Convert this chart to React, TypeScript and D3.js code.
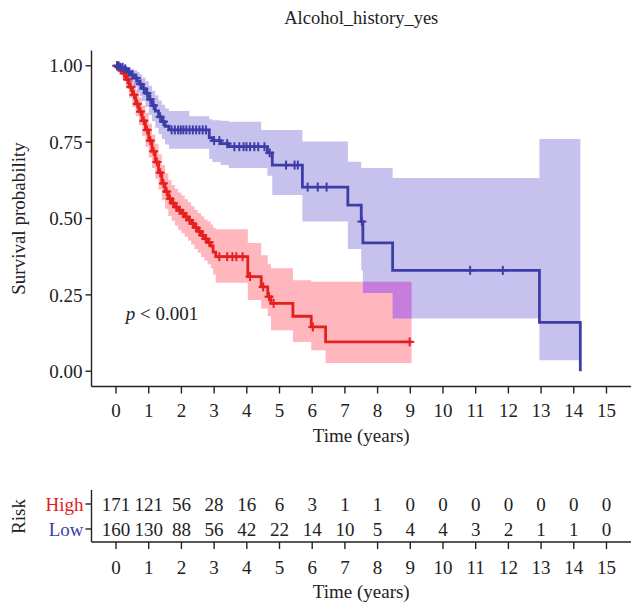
import React from "react";
import * as d3 from "d3";

// Kaplan–Meier estimates, stratified by risk group (time in years)
const highTimes = [0, 0.05, 0.1, 0.2, 0.3, 0.4, 0.5, 0.6, 0.7, 0.8, 0.9, 1.0, 1.1, 1.2, 1.3, 1.4, 1.5, 1.6, 1.7, 1.8, 1.9, 2.0, 2.1, 2.2, 2.3, 2.4, 2.5, 2.6, 2.7, 2.8, 2.9, 2.97, 3.05, 4.03, 4.44, 4.64, 4.74, 5.41, 5.97, 6.41];
const highSurv = [1, 0.995, 0.99, 0.975, 0.955, 0.93, 0.905, 0.875, 0.85, 0.82, 0.79, 0.755, 0.72, 0.685, 0.65, 0.615, 0.588, 0.565, 0.55, 0.537, 0.527, 0.517, 0.505, 0.495, 0.483, 0.47, 0.458, 0.445, 0.433, 0.422, 0.41, 0.39, 0.375, 0.31, 0.276, 0.244, 0.222, 0.18, 0.145, 0.096];
const highEnd = 9.04;
const highCensor = [0.03, 0.08, 0.15, 0.25, 0.35, 0.45, 0.55, 0.65, 0.75, 0.85, 0.95, 1.05, 1.15, 1.25, 1.35, 1.45, 1.55, 1.65, 1.75, 1.85, 1.95, 2.05, 2.15, 2.25, 2.35, 2.45, 2.55, 2.65, 2.75, 2.85, 3.16, 3.4, 3.56, 3.68, 3.87, 4.1, 4.5, 4.68, 4.82, 6.02, 8.98];

// 95% confidence band of the high-risk curve
const highBandTimes = [0, 0.1, 0.2, 0.3, 0.4, 0.5, 0.6, 0.7, 0.8, 0.9, 1.0, 1.1, 1.2, 1.3, 1.4, 1.5, 1.6, 1.7, 1.8, 1.9, 2.0, 2.1, 2.2, 2.3, 2.4, 2.5, 2.6, 2.7, 2.8, 2.9, 2.97, 3.05, 4.03, 4.44, 4.64, 4.74, 5.41, 5.97, 6.41];
const highLower = [1, 0.975, 0.955, 0.93, 0.895, 0.865, 0.835, 0.805, 0.77, 0.735, 0.7, 0.665, 0.63, 0.595, 0.56, 0.532, 0.508, 0.493, 0.477, 0.462, 0.452, 0.44, 0.428, 0.415, 0.4, 0.388, 0.374, 0.362, 0.35, 0.337, 0.317, 0.29, 0.233, 0.205, 0.18, 0.134, 0.096, 0.069, 0.027];
const highUpper = [1, 1, 0.995, 0.98, 0.965, 0.945, 0.92, 0.895, 0.87, 0.845, 0.81, 0.775, 0.745, 0.71, 0.675, 0.648, 0.625, 0.61, 0.597, 0.585, 0.575, 0.563, 0.553, 0.54, 0.528, 0.518, 0.507, 0.497, 0.49, 0.48, 0.47, 0.465, 0.42, 0.38, 0.35, 0.337, 0.298, 0.293, 0.293];

const lowTimes = [0, 0.1, 0.25, 0.35, 0.45, 0.55, 0.65, 0.72, 0.8, 0.9, 1.0, 1.1, 1.2, 1.3, 1.4, 1.5, 1.62, 2.85, 2.95, 3.2, 3.45, 4.63, 4.78, 5.7, 7.09, 7.5, 7.55, 8.46, 12.95, 14.2];
const lowSurv = [1, 0.995, 0.99, 0.98, 0.97, 0.96, 0.95, 0.94, 0.925, 0.91, 0.89, 0.87, 0.852, 0.833, 0.817, 0.802, 0.79, 0.765, 0.755, 0.745, 0.735, 0.715, 0.675, 0.603, 0.544, 0.49, 0.42, 0.33, 0.16, 0];
const lowEnd = 14.2;
const lowCensor = [0.03, 0.08, 0.13, 0.2, 0.28, 0.4, 0.5, 0.62, 0.75, 0.85, 0.95, 1.05, 1.15, 1.35, 1.45, 1.7, 1.8, 1.9, 1.98, 2.06, 2.15, 2.25, 2.35, 2.45, 2.55, 2.65, 2.75, 3.0, 3.16, 3.4, 3.62, 3.77, 3.9, 3.99, 4.1, 4.23, 4.35, 4.54, 4.7, 5.2, 5.46, 5.56, 5.86, 6.17, 6.44, 7.52, 10.83, 11.83];

// 95% confidence band of the low-risk curve
const lowBandTimes = [0, 0.1, 0.25, 0.35, 0.45, 0.55, 0.65, 0.72, 0.8, 0.9, 1.0, 1.1, 1.2, 1.3, 1.4, 1.5, 1.62, 2.24, 2.85, 2.95, 3.2, 3.45, 4.44, 4.63, 4.78, 5.7, 7.09, 7.5, 7.55, 8.46, 12.95];
const lowLower = [1, 0.985, 0.975, 0.96, 0.945, 0.93, 0.915, 0.9, 0.885, 0.865, 0.84, 0.818, 0.797, 0.777, 0.76, 0.742, 0.728, 0.728, 0.695, 0.685, 0.675, 0.665, 0.665, 0.64, 0.577, 0.49, 0.4, 0.33, 0.256, 0.173, 0.036];
const lowUpper = [1, 1, 1, 0.995, 0.99, 0.985, 0.98, 0.972, 0.962, 0.95, 0.935, 0.918, 0.903, 0.886, 0.872, 0.86, 0.852, 0.835, 0.825, 0.822, 0.82, 0.817, 0.79, 0.79, 0.79, 0.752, 0.686, 0.665, 0.665, 0.633, 0.76];

// Number at risk
const riskTicks = [0, 1, 2, 3, 4, 5, 6, 7, 8, 9, 10, 11, 12, 13, 14, 15];
const riskGroups = ["High", "Low"];
const highAtRisk = [171, 121, 56, 28, 16, 6, 3, 1, 1, 0, 0, 0, 0, 0, 0, 0];
const lowAtRisk = [160, 130, 88, 56, 42, 22, 14, 10, 5, 4, 4, 3, 2, 1, 1, 0];
const survTicks = [0, 0.25, 0.5, 0.75, 1];

const RED = "#e4211f";
const BLUE = "#3d3da8";
const PINK = "#ffb7bd";
const LAVENDER = "#c7c1ee";
const OVERLAP = "#c67ddb";
const FONT = "'Liberation Serif', 'Times New Roman', serif";
const FS = 19;

type Pt = { t: number; s: number };
type BandPt = { t: number; lo: number; hi: number };

function stepPoints(times: number[], surv: number[], end: number): Pt[] {
  const pts = times.map((t, i) => ({ t, s: surv[i] }));
  const last = pts[pts.length - 1];
  if (last.t < end) pts.push({ t: end, s: last.s });
  return pts;
}

function bandPoints(times: number[], lo: number[], hi: number[], end: number): BandPt[] {
  const pts = times.map((t, i) => ({ t, lo: lo[i], hi: hi[i] }));
  const last = pts[pts.length - 1];
  pts.push({ t: end, lo: last.lo, hi: last.hi });
  return pts;
}

function survAt(times: number[], surv: number[], t: number): number {
  const i = d3.bisectRight(times, t) - 1;
  return surv[Math.max(0, i)];
}

export default function App() {
  const width = 631;
  const height = 607;
  const left = 91.5;
  const right = 631;

  const x = d3.scaleLinear().domain([-0.75, 15.75]).range([left, right]);
  const y = d3.scaleLinear().domain([-0.05, 1.05]).range([386.5, 50.5]);
  const rowY = d3.scalePoint<string>().domain(riskGroups).range([504, 529]);

  const line = d3
    .line<Pt>()
    .x((d) => x(d.t))
    .y((d) => y(d.s))
    .curve(d3.curveStepAfter);
  const area = d3
    .area<BandPt>()
    .x((d) => x(d.t))
    .y0((d) => y(d.lo))
    .y1((d) => y(d.hi))
    .curve(d3.curveStepAfter);

  const highLine = line(stepPoints(highTimes, highSurv, highEnd)) || "";
  const lowLine = line(stepPoints(lowTimes, lowSurv, lowEnd)) || "";
  const highArea = area(bandPoints(highBandTimes, highLower, highUpper, highEnd)) || "";
  const lowArea = area(bandPoints(lowBandTimes, lowLower, lowUpper, lowEnd)) || "";

  const cross = (cx: number, cy: number, color: string, key: string) => (
    <g key={key} stroke={color} strokeWidth={2}>
      <line x1={cx - 4.5} x2={cx + 4.5} y1={cy} y2={cy} />
      <line x1={cx} x2={cx} y1={cy - 4.5} y2={cy + 4.5} />
    </g>
  );

  const axisY0 = y(-0.05);
  const axisTop = y(1.05);
  const tableBottom = 542;
  const tableTop = 490;

  return (
    <svg width={width} height={height} style={{ display: "block", position: "absolute", left: 0, top: 0 }} fontFamily={FONT}>
      <rect width={width} height={height} fill="#fff" />
      <defs>
        <clipPath id="lowBandClip">
          <path d={lowArea} />
        </clipPath>
      </defs>

      <text x={(left + right) / 2} y={18} dy="0.35em" textAnchor="middle" fontSize={18.5} fill="#222">
        Alcohol_history_yes
      </text>

      {/* confidence bands */}
      <path d={highArea} fill={PINK} />
      <path d={lowArea} fill={LAVENDER} />
      <path d={highArea} fill={OVERLAP} clipPath="url(#lowBandClip)" />

      {/* survival curves */}
      <path d={highLine} fill="none" stroke={RED} strokeWidth={2.8} />
      {highCensor.map((t, i) => cross(x(t), y(survAt(highTimes, highSurv, t)), RED, `hc${i}`))}
      <path d={lowLine} fill="none" stroke={BLUE} strokeWidth={2.8} />
      {lowCensor.map((t, i) => cross(x(t), y(survAt(lowTimes, lowSurv, t)), BLUE, `lc${i}`))}

      <text x={x(0.3)} y={y(0.19)} dy="0.35em" fontSize={FS} fill="#222">
        <tspan fontStyle="italic">p</tspan>
        <tspan> &lt; 0.001</tspan>
      </text>

      {/* axes of the survival panel */}
      <g stroke="#222" strokeWidth={1.4} fill="none">
        <line x1={left} x2={left} y1={axisTop} y2={axisY0} />
        <line x1={left} x2={right} y1={axisY0} y2={axisY0} />
        {survTicks.map((v) => (
          <line key={`yt${v}`} x1={left - 6} x2={left} y1={y(v)} y2={y(v)} />
        ))}
        {riskTicks.map((t) => (
          <line key={`xt${t}`} x1={x(t)} x2={x(t)} y1={axisY0} y2={axisY0 + 7} />
        ))}
      </g>
      {survTicks.map((v) => (
        <text key={`yl${v}`} x={left - 9} y={y(v)} dy="0.35em" textAnchor="end" fontSize={FS} fill="#222">
          {v.toFixed(2)}
        </text>
      ))}
      {riskTicks.map((t) => (
        <text key={`xl${t}`} x={x(t)} y={410} dy="0.35em" textAnchor="middle" fontSize={FS} fill="#222">
          {t}
        </text>
      ))}
      <text x={x(7.5)} y={435} dy="0.35em" textAnchor="middle" fontSize={FS} fill="#222">
        Time (years)
      </text>
      <text transform={`translate(18,${y(0.5)}) rotate(-90)`} dy="0.35em" textAnchor="middle" fontSize={FS} fill="#222">
        Survival probability
      </text>

      {/* number-at-risk table */}
      <g stroke="#222" strokeWidth={1.4} fill="none">
        <line x1={left} x2={left} y1={tableTop} y2={tableBottom} />
        <line x1={left} x2={right} y1={tableBottom} y2={tableBottom} />
        {riskGroups.map((g) => (
          <line key={`rt${g}`} x1={left - 6} x2={left} y1={rowY(g)} y2={rowY(g)} />
        ))}
        {riskTicks.map((t) => (
          <line key={`rxt${t}`} x1={x(t)} x2={x(t)} y1={tableBottom} y2={tableBottom + 7} />
        ))}
      </g>
      {riskGroups.map((g) => (
        <text key={`rl${g}`} x={left - 8} y={rowY(g)} dy="0.35em" textAnchor="end" fontSize={FS} fill={g === "High" ? RED : BLUE}>
          {g}
        </text>
      ))}
      {highAtRisk.map((n, i) => (
        <text key={`hn${i}`} x={x(riskTicks[i])} y={rowY("High")} dy="0.35em" textAnchor="middle" fontSize={FS} fill="#222">
          {n}
        </text>
      ))}
      {lowAtRisk.map((n, i) => (
        <text key={`ln${i}`} x={x(riskTicks[i])} y={rowY("Low")} dy="0.35em" textAnchor="middle" fontSize={FS} fill="#222">
          {n}
        </text>
      ))}
      <text transform={`translate(18,${(rowY("High")! + rowY("Low")!) / 2}) rotate(-90)`} dy="0.35em" textAnchor="middle" fontSize={FS} fill="#222">
        Risk
      </text>
      {riskTicks.map((t) => (
        <text key={`rxl${t}`} x={x(t)} y={567} dy="0.35em" textAnchor="middle" fontSize={FS} fill="#222">
          {t}
        </text>
      ))}
      <text x={x(7.5)} y={591} dy="0.35em" textAnchor="middle" fontSize={FS} fill="#222">
        Time (years)
      </text>
    </svg>
  );
}
